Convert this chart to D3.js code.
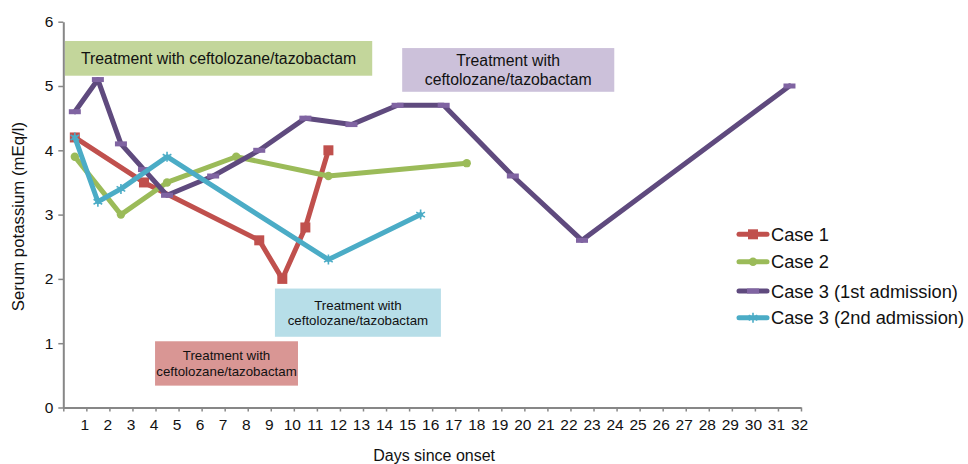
<!DOCTYPE html>
<html>
<head>
<meta charset="utf-8">
<script src="https://cdn.jsdelivr.net/npm/d3@7"></script>
<style>
  body { margin: 0; background: #fff; }
  svg { font-family: "Liberation Sans", Arial, Helvetica, sans-serif; }
</style>
</head>
<body>
<div id="chart"></div>
<script>
// values (days since onset, serum potassium mEq/l)
const case1Days = [0.5, 3.5, 8.5, 9.5, 10.5, 11.5];
const case1K = [4.2, 3.5, 2.6, 2.0, 2.8, 4.0];

const case2Days = [0.5, 2.5, 4.5, 7.5, 11.5, 17.5];
const case2K = [3.9, 3.0, 3.5, 3.9, 3.6, 3.8];

const case3aDays = [0.5, 1.5, 2.5, 3.5, 4.5, 6.5, 8.5, 10.5, 12.5, 14.5, 16.5, 19.5, 22.5, 31.5];
const case3aK = [4.6, 5.1, 4.1, 3.7, 3.3, 3.6, 4.0, 4.5, 4.4, 4.7, 4.7, 3.6, 2.6, 5.0];

const case3bDays = [0.5, 1.5, 2.5, 4.5, 11.5, 15.5];
const case3bK = [4.2, 3.2, 3.4, 3.9, 2.3, 3.0];

const seriesNames = ["Case 1", "Case 2", "Case 3 (1st admission)", "Case 3 (2nd admission)"];
const xTickLabels = [1, 2, 3, 4, 5, 6, 7, 8, 9, 10, 11, 12, 13, 14, 15, 16,
                     17, 18, 19, 20, 21, 22, 23, 24, 25, 26, 27, 28, 29, 30, 31, 32];
const yTicks = [0, 1, 2, 3, 4, 5, 6];
const boxText = "Treatment with ceftolozane/tazobactam";

const series = [
    { name: seriesNames[0], days: case1Days, k: case1K, line: "#c0504d", mark: "#c0504d", shape: "square" },
    { name: seriesNames[1], days: case2Days, k: case2K, line: "#9bbb59", mark: "#9bbb59", shape: "circle" },
    { name: seriesNames[2], days: case3aDays, k: case3aK, line: "#5f4a7e", mark: "#8064a2", shape: "dash" },
    { name: seriesNames[3], days: case3bDays, k: case3bK, line: "#4bacc6", mark: "#4bacc6", shape: "star" }
];

const W = 968, H = 464;
const plotLeft = 63.3, plotRight = 801, plotTop = 21.7, plotBottom = 407.5;

const svg = d3.select("#chart")
    .append("svg")
    .attr("width", W)
    .attr("height", H);

const x = d3.scaleLinear().domain([0, 32]).range([plotLeft, plotRight]);
const y = d3.scaleLinear().domain([0, 6]).range([plotBottom, plotTop]);

// treatment boxes (placed in data units)
const boxes = [
    { x0: 0.07, x1: 13.4, y0: 5.70, y1: 5.16, fill: "#c3d69b", lines: [boxText], size: 15.8 },
    { x0: 14.7, x1: 23.9, y0: 5.59, y1: 4.91, fill: "#ccc1da", lines: ["Treatment with", "ceftolozane/tazobactam"], size: 15.8 },
    { x0: 9.18, x1: 16.38, y0: 1.85, y1: 1.10, fill: "#b7dee8", lines: ["Treatment with", "ceftolozane/tazobactam"], size: 13.3 },
    { x0: 3.98, x1: 10.18, y0: 1.03, y1: 0.34, fill: "#d99694", lines: ["Treatment with", "ceftolozane/tazobactam"], size: 13.3 }
];

boxes.forEach(b => {
    const g = svg.append("g");
    const bx = x(b.x0), by = y(b.y0), bw = x(b.x1) - x(b.x0), bh = y(b.y1) - y(b.y0);
    g.append("rect")
        .attr("x", bx).attr("y", by)
        .attr("width", bw).attr("height", bh)
        .attr("fill", b.fill);
    const lh = b.size * 1.17;
    const ty = by + bh / 2 - (b.lines.length - 1) * lh / 2;
    b.lines.forEach((t, i) => {
        g.append("text")
            .attr("x", bx + bw / 2)
            .attr("y", ty + i * lh)
            .attr("dy", "0.35em")
            .attr("text-anchor", "middle")
            .attr("font-size", b.size)
            .attr("fill", "#111")
            .text(t);
    });
});

// axes
const axisColor = "#878787";

const yAxis = svg.append("g")
    .attr("transform", `translate(${plotLeft},0)`)
    .call(d3.axisLeft(y).tickValues(yTicks).tickFormat(d3.format("d"))
        .tickSize(5).tickPadding(5).tickSizeOuter(0));

const xAxis = svg.append("g")
    .attr("transform", `translate(0,${plotBottom})`)
    .call(d3.axisBottom(x).tickValues([0].concat(xTickLabels)).tickSize(4).tickPadding(7).tickSizeOuter(0)
        .tickFormat(d => d === 0 ? "" : d));

[xAxis, yAxis].forEach(a => {
    a.select(".domain").attr("stroke", axisColor).attr("stroke-width", 2);
    a.selectAll(".tick line").attr("stroke", axisColor).attr("stroke-width", 1.5);
    a.selectAll("text").attr("font-size", 15.5).attr("fill", "#111")
        .attr("font-family", "'Liberation Sans', Arial, sans-serif");
});
xAxis.selectAll("text").attr("dx", -2);

svg.append("text")
    .attr("x", (plotLeft + plotRight) / 2 + 2)
    .attr("y", 460.5)
    .attr("text-anchor", "middle")
    .attr("font-size", 16)
    .attr("fill", "#111")
    .text("Days since onset");

svg.append("text")
    .attr("transform", `translate(18,${(plotTop + plotBottom) / 2 + 2}) rotate(-90)`)
    .attr("dy", "0.35em")
    .attr("text-anchor", "middle")
    .attr("font-size", 16.8)
    .attr("fill", "#111")
    .text("Serum potassium (mEq/l)");

// markers
function drawMarker(g, s, cx, cy) {
    if (s.shape === "square") {
        g.append("rect").attr("x", cx - 5).attr("y", cy - 5).attr("width", 10).attr("height", 10).attr("fill", s.mark);
    } else if (s.shape === "circle") {
        g.append("circle").attr("cx", cx).attr("cy", cy).attr("r", 4.2).attr("fill", s.mark);
    } else if (s.shape === "dash") {
        g.append("rect").attr("x", cx - 6).attr("y", cy - 2.5).attr("width", 12).attr("height", 5).attr("fill", s.mark);
    } else {
        g.append("path")
            .attr("d", d3.symbol().type(d3.symbolAsterisk).size(70)())
            .attr("transform", `translate(${cx},${cy})`)
            .attr("fill", "none")
            .attr("stroke", s.mark)
            .attr("stroke-width", 1.6);
    }
}

const line = d3.line().x(d => x(d[0])).y(d => y(d[1]));

series.forEach(s => {
    const pts = s.days.map((d, i) => [d, s.k[i]]);
    const g = svg.append("g");
    g.append("path")
        .attr("d", line(pts))
        .attr("fill", "none")
        .attr("stroke", s.line)
        .attr("stroke-width", 5)
        .attr("stroke-linejoin", "round")
        .attr("stroke-linecap", "round");
    pts.forEach(p => drawMarker(g, s, x(p[0]), y(p[1])));
});

// legend
const legendY = [234.3, 261.7, 291, 317.7];
const legend = svg.append("g");
series.forEach((s, i) => {
    const ly = legendY[i];
    legend.append("line")
        .attr("x1", 739).attr("x2", 767)
        .attr("y1", ly).attr("y2", ly)
        .attr("stroke", s.line)
        .attr("stroke-width", 5)
        .attr("stroke-linecap", "round");
    drawMarker(legend, s, 753, ly);
    legend.append("text")
        .attr("x", 771)
        .attr("y", ly)
        .attr("dy", "0.36em")
        .attr("font-size", 18.3)
        .attr("fill", "#111")
        .text(s.name);
});
</script>
</body>
</html>
